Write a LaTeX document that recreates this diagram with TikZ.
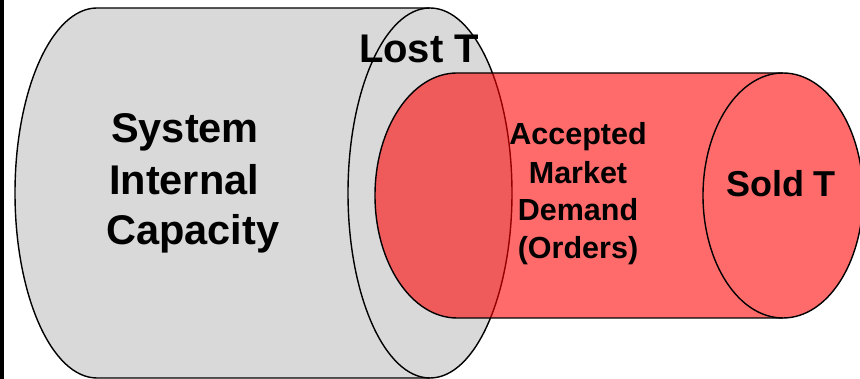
\documentclass[tikz,border=0pt]{standalone}
\usepackage{fontspec}
\setmainfont{Liberation Sans}
\definecolor{cylgray}{RGB}{217,217,217}
\begin{document}
\begin{tikzpicture}[x=1pt,y=1pt,
  outline/.style={draw=black,line width=1.4pt},
  syslbl/.style={font=\fontsize{41.5}{48}\selectfont\bfseries, inner sep=0pt, text=black},
  biglbl/.style={font=\fontsize{40}{48}\selectfont\bfseries, inner sep=0pt, text=black},
  midlbl/.style={font=\fontsize{36}{44}\selectfont\bfseries, inner sep=0pt, text=black},
  smalllbl/.style={font=\fontsize{30.5}{38}\selectfont\bfseries, inner sep=0pt, text=black}]
\useasboundingbox (0,0) rectangle (860,379);
\clip (0,0) rectangle (860,379);
\fill[black] (0,0) rectangle (4,379);
% gray cylinder
\fill[cylgray] (97,371) -- (430,371) arc[start angle=90,end angle=-90,x radius=82,y radius=185]
  -- (97,1) arc[start angle=270,end angle=90,x radius=82,y radius=185] -- cycle;
\draw[outline] (430,371) -- (97,371) arc[start angle=90,end angle=270,x radius=82,y radius=185] -- (430,1);
\draw[outline] (430,186) ellipse[x radius=82,y radius=185];
% red cylinder
\fill[red, fill opacity=0.58] (457,306) -- (783,306) arc[start angle=90,end angle=-90,x radius=80,y radius=122.5]
  -- (457,61) arc[start angle=270,end angle=90,x radius=82,y radius=122.5] -- cycle;
\draw[outline] (783,306) -- (457,306) arc[start angle=90,end angle=270,x radius=82,y radius=122.5] -- (783,61);
\draw[outline] (783,183.5) ellipse[x radius=80,y radius=122.5];
% labels
\node[syslbl, anchor=base west] (sys1) at (111,236) {System};
\node[syslbl, anchor=base west] (sys2) at (109,184.5) {Internal};
\node[syslbl, anchor=base west] (sys3) at (106,134) {Capacity};
\node[biglbl, anchor=base] (lost) at (419,316) {Lost T};
\node[midlbl, anchor=base] (sold) at (781,182) {Sold T};
\node[smalllbl, anchor=base] (acc1) at (578,234) {Accepted};
\node[smalllbl, anchor=base] (acc2) at (578,195.5) {Market};
\node[smalllbl, anchor=base] (acc3) at (578,158) {Demand};
\node[smalllbl, anchor=base] (acc4) at (578,120) {(Orders)};
\end{tikzpicture}
\end{document}
